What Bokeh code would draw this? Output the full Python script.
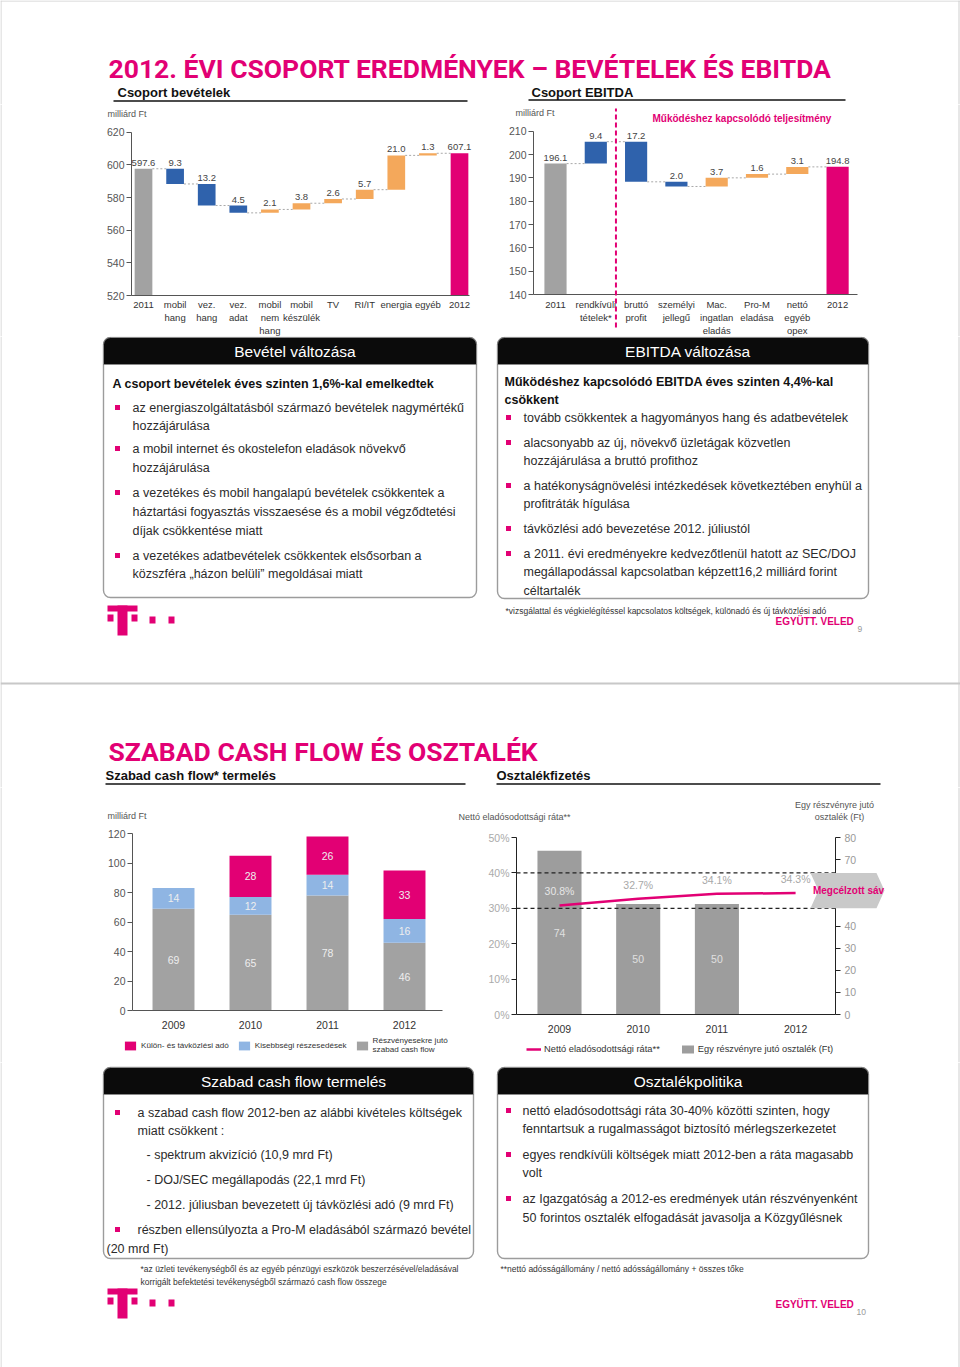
from bokeh.plotting import figure
from bokeh.models import (Range1d, Label, Arrow, PolyAnnotation, Span, Legend, LegendItem,
                          LinearAxis, FixedTicker, ColumnDataSource)
from bokeh.layouts import column, row
from bokeh.core.properties import value
from bokeh.embed import file_html
from bokeh.resources import INLINE

# ---------------- data ----------------
rev_categories = ["2011", "mobil\nhang", "vez.\nhang", "vez.\nadat", "mobil\nnem\nhang",
                  "mobil\nkészülék", "TV", "RI/IT", "energia", "egyéb", "2012"]
rev_start = 597.6
rev_changes = [-9.3, -13.2, -4.5, 2.1, 3.8, 2.6, 5.7, 21.0, 1.3]
rev_end = 607.1
rev_ticks = [520, 540, 560, 580, 600, 620]

ebitda_categories = ["2011", "rendkívüli\ntételek*", "bruttó\nprofit", "személyi\njellegű",
                     "Mac.\ningatlan\neladás", "Pro-M\neladása", "nettó\negyéb\nopex", "2012"]
ebitda_start = 196.1
ebitda_changes = [9.4, -17.2, -2.0, 3.7, 1.6, 3.1]
ebitda_kinds = ["one-off", "down", "down", "up", "up", "up"]
ebitda_end = 194.8
ebitda_ticks = [140, 150, 160, 170, 180, 190, 200, 210]

fcf_years = ["2009", "2010", "2011", "2012"]
fcf_shareholder = [69, 65, 78, 46]
fcf_minority = [14, 12, 14, 16]
fcf_tax = [0, 28, 26, 33]
fcf_ticks = [0, 20, 40, 60, 80, 100, 120]

div_years = ["2009", "2010", "2011", "2012"]
div_per_share = [74, 50, 50]               # Ft, 2009-2011
net_debt_ratio = [30.8, 32.7, 34.1, 34.3]  # %
ratio_ticks = [0, 10, 20, 30, 40, 50]
div_ticks = [0, 10, 20, 30, 40, 50, 60, 70, 80]
target_band = [30, 40]

# ---------------- style ----------------
MAGENTA = "#E20074"
BLUE = "#2F62AC"
ORANGE = "#F4A85B"
GREY = "#A2A2A2"
LBLUE = "#8FB5E3"
DARK = "#2b2b2b"
BORDER = "#cfcfcf"
FONT = "Liberation Sans"
TFONT = "Roboto"
PAGE_W = 960
SPLIT2 = 456   # x where the two lower charts meet


def strip(y_top, y_bot):
    p = figure(width=PAGE_W, height=y_bot - y_top, x_range=Range1d(0, PAGE_W), y_range=Range1d(y_bot, y_top),
               x_axis_location=None, y_axis_location=None, min_border=0,
               output_backend="svg", toolbar_location=None)
    p.grid.visible = False
    p.outline_line_color = None
    p.segment(x0=[0.5, PAGE_W - 1.5], x1=[0.5, PAGE_W - 1.5], y0=[y_top, y_top], y1=[y_bot, y_bot],
              line_color=BORDER, line_width=1)
    return p


def put(p, x, y, s, size=12.5, color=DARK, bold=False, align="left", baseline="middle", font=FONT):
    p.text(x=[x], y=[y], text=[s], text_font=value(font), text_font_size=f"{size}px",
           text_color=color, text_font_style="bold" if bold else "normal",
           text_align=align, text_baseline=baseline)


def hline(p, x0, x1, y, color="#111", width=1.0, dash="solid"):
    p.segment(x0=[x0], x1=[x1], y0=[y], y1=[y], line_color=color, line_width=width, line_dash=dash)


def text_box(p, l, r, t, h, b, title):
    body = p.quad(left=[l], right=[r], top=[t], bottom=[b], fill_color="white",
                  line_color="#9c9c9c", line_width=1.4)
    head = p.quad(left=[l], right=[r], top=[t], bottom=[h], fill_color="#0b0b0b",
                  line_color="#8a8a8a", line_width=1.0)
    try:
        body.glyph.border_radius = 7
        head.glyph.border_radius = (7, 7, 0, 0)
    except Exception:
        pass
    put(p, (l + r) / 2 + 5, (t + h) / 2 + 0.5, title, size=15.5, color="white", align="center")


def bullets(p, x, ys):
    p.scatter(x=[x] * len(ys), y=ys, marker="square", size=5, fill_color=MAGENTA, line_color=None)


def lines(p, x, items, size=12.5, color=DARK, bold=False):
    for y, s in items:
        put(p, x, y, s, size=size, color=color, bold=bold)


def logo(p, dy):
    parts = [(107, 137, 605, 611), (117, 127, 605, 635), (107, 113, 614, 621), (131, 137, 614, 621),
             (149, 155, 616, 623), (168, 174, 616, 623)]
    p.quad(left=[a[0] for a in parts], right=[a[1] for a in parts],
           top=[a[2] + dy for a in parts], bottom=[a[3] + dy for a in parts],
           fill_color=MAGENTA, line_color=None)


def chart_fig(x0, x1, y0, y1, fx, fy):
    """figure covering the page box x0..x1 / y0..y1; fx, fy map page pixels to data"""
    p = figure(width=x1 - x0, height=y1 - y0, x_range=Range1d(fx(x0), fx(x1)),
               y_range=Range1d(fy(y1), fy(y0)), min_border=0,
               output_backend="svg", toolbar_location=None)
    p.grid.visible = False
    p.outline_line_color = None
    for edge in (0.5, PAGE_W - 1.5):
        if x0 <= edge <= x1:
            p.add_layout(Span(location=fx(edge), dimension="height", line_color=BORDER, line_width=1))
    return p


def style_axes(p, xticks, xlabels, xloc, xbounds, yticks, yloc, ylabels=None, xsize="9.5px", xstand=4,
               ycolor="#555", axis_color="#555"):
    xa = p.xaxis[0]
    xa.fixed_location = xloc
    xa.bounds = xbounds
    xa.ticker = FixedTicker(ticks=xticks)
    xa.major_label_overrides = {t: s for t, s in zip(xticks, xlabels)}
    xa.major_tick_out = 0
    xa.major_tick_in = 0
    xa.major_tick_line_color = None
    xa.minor_tick_line_color = None
    xa.axis_line_color = axis_color
    xa.major_label_text_font = FONT
    xa.major_label_text_font_size = xsize
    xa.major_label_text_color = "#333"
    xa.major_label_standoff = xstand
    ya = p.yaxis[0]
    ya.fixed_location = yloc
    ya.bounds = (yticks[0], yticks[-1])
    ya.ticker = FixedTicker(ticks=yticks)
    if ylabels is not None:
        ya.major_label_overrides = {t: s for t, s in zip(yticks, ylabels)}
    ya.major_tick_out = 5
    ya.major_tick_in = 0
    ya.minor_tick_line_color = None
    ya.axis_line_color = axis_color
    ya.major_tick_line_color = axis_color
    ya.major_label_text_font = FONT
    ya.major_label_text_font_size = "10.5px"
    ya.major_label_text_color = ycolor
    ya.major_label_standoff = 2


def lab(p, x, y, s, size=9.0, color="#555", bold=False, align="left", baseline="middle", level="annotation"):
    p.add_layout(Label(x=x, y=y, text=s, text_font=FONT, text_font_size=f"{size}px",
                       text_color=color, text_font_style="bold" if bold else "normal",
                       text_align=align, text_baseline=baseline, level=level))


def waterfall(p, start, changes, end, base, colors, width):
    levels = [start]
    for c in changes:
        levels.append(round(levels[-1] + c, 3))
    n = len(changes) + 2
    xs = list(range(n))
    bottoms = [base] + [min(levels[i], levels[i + 1]) for i in range(len(changes))] + [base]
    tops = [start] + [max(levels[i], levels[i + 1]) for i in range(len(changes))] + [end]
    texts = [f"{start:.1f}"] + [f"{abs(c):.1f}" for c in changes] + [f"{end:.1f}"]
    src = ColumnDataSource(dict(x=xs, bottom=bottoms, top=tops, color=colors, text=texts))
    p.vbar(x="x", width=width, bottom="bottom", top="top", fill_color="color", line_color=None, source=src)
    p.segment(x0=[i + width / 2 for i in range(n - 1)], x1=[i + 1 - width / 2 for i in range(n - 1)],
              y0=levels[:n - 1], y1=levels[:n - 1], line_color="#a8a8a8", line_width=1, line_dash="2 2")
    p.text(x="x", y="top", text="text", source=src, text_align="center", text_baseline="bottom",
           y_offset=-3, text_font=value(FONT), text_font_size="9.5px", text_color="#444")


# ======================= slide 1 header =======================
S1 = strip(0, 104)
hline(S1, 0, PAGE_W, 0.5, BORDER, 1)
put(S1, 108, 67.5, "2012. ÉVI CSOPORT EREDMÉNYEK – BEVÉTELEK ÉS EBITDA", size=26.5, color=MAGENTA,
    bold=True, font=TFONT)
put(S1, 117, 92, "Csoport bevételek", size=13, color="#111", bold=True)
hline(S1, 113, 467, 100.5, "#111", 1.3)
put(S1, 531, 91.5, "Csoport EBITDA", size=13, color="#111", bold=True)
hline(S1, 528, 845, 99.5, "#111", 1.3)

# ======================= chart 1: revenue waterfall =======================
def c1x(px): return (px - 143.0) / 31.6
def c1y(py): return 520 + (295.0 - py) / 1.633

p1 = chart_fig(0, 488, 104, 336, c1x, c1y)
rev_colors = [GREY] + [BLUE if c < 0 else ORANGE for c in rev_changes] + [MAGENTA]
waterfall(p1, rev_start, rev_changes, rev_end, rev_ticks[0], rev_colors, 0.56)
style_axes(p1, list(range(len(rev_categories))), rev_categories, rev_ticks[0], (c1x(131), c1x(469)),
           rev_ticks, c1x(131), xstand=3)
lab(p1, c1x(107), c1y(113), "milliárd Ft", size=9, color="#555")

# ======================= chart 2: EBITDA waterfall =======================
def c2x(px): return (px - 555.0) / 40.3
def c2y(py): return 140 + (294.0 - py) / 2.333

p2 = chart_fig(488, PAGE_W, 104, 336, c2x, c2y)
kind_color = {"one-off": BLUE, "down": BLUE, "up": ORANGE}
eb_colors = [GREY] + [kind_color[k] for k in ebitda_kinds] + [MAGENTA]
waterfall(p2, ebitda_start, ebitda_changes, ebitda_end, ebitda_ticks[0], eb_colors, 0.55)
style_axes(p2, list(range(len(ebitda_categories))), ebitda_categories, ebitda_ticks[0],
           (c2x(533), c2x(857)), ebitda_ticks, c2x(533), xstand=4)
lab(p2, c2x(515), c2y(112), "milliárd Ft", size=9, color="#555")
p2.add_layout(Arrow(end=None, x_start=1.5, y_start=c2y(327), x_end=1.5, y_end=c2y(108),
                    line_color=MAGENTA, line_width=2, line_dash="5 3"))
lab(p2, c2x(652), c2y(118), "Működéshez kapcsolódó teljesítmény", size=10, color=MAGENTA, bold=True)

# ======================= slide 1 text + slide 2 header =======================
S2 = strip(336, 787)
text_box(S2, 103, 476, 337, 364, 597, "Bevétel változása")
put(S2, 112, 383, "A csoport bevételek éves szinten 1,6%-kal emelkedtek", size=12.5, color="#111", bold=True)
bullets(S2, 117, [407, 448, 492, 555])
lines(S2, 132, [(407, "az energiaszolgáltatásból származó bevételek nagymértékű"),
                (425, "hozzájárulása"),
                (448, "a mobil internet és okostelefon eladások növekvő"),
                (467, "hozzájárulása"),
                (492, "a vezetékes és mobil hangalapú bevételek csökkentek a"),
                (511, "háztartási fogyasztás visszaesése és a mobil végződtetési"),
                (530, "díjak csökkentése miatt"),
                (555, "a vezetékes adatbevételek csökkentek elsősorban a"),
                (573, "közszféra „házon belüli” megoldásai miatt")])

text_box(S2, 497, 868, 337, 364, 598, "EBITDA változása")
lines(S2, 504, [(381, "Működéshez kapcsolódó EBITDA éves szinten 4,4%-kal"),
                (399, "csökkent")], size=12.5, color="#111", bold=True)
bullets(S2, 508, [417, 442, 485, 528, 553])
lines(S2, 523, [(417, "tovább csökkentek a hagyományos hang és adatbevételek"),
                (442, "alacsonyabb az új, növekvő üzletágak közvetlen"),
                (460, "hozzájárulása a bruttó profithoz"),
                (485, "a hatékonyságnövelési intézkedések következtében enyhül a"),
                (503, "profitráták  hígulása"),
                (528, "távközlési adó bevezetése 2012. júliustól"),
                (553, "a 2011. évi eredményekre kedvezőtlenül hatott az SEC/DOJ"),
                (571, "megállapodással kapcsolatban képzett16,2 milliárd forint"),
                (590, "céltartalék")])
put(S2, 505, 610, "*vizsgálattal és végkielégítéssel kapcsolatos költségek, különadó és új távközlési adó",
    size=8.5, color="#333")
logo(S2, 0)
put(S2, 775, 621, "EGYÜTT. VELED", size=10, color=MAGENTA, bold=True)
put(S2, 857, 628, "9", size=8.5, color="#999")
hline(S2, 0, PAGE_W, 683, "#c8c8c8", 2)

put(S2, 108, 751, "SZABAD CASH FLOW ÉS OSZTALÉK", size=26.5, color=MAGENTA, bold=True, font=TFONT)
put(S2, 105, 775, "Szabad cash flow* termelés", size=13, color="#111", bold=True)
hline(S2, 105, 465, 783.5, "#111", 1.3)
put(S2, 496, 775, "Osztalékfizetés", size=13, color="#111", bold=True)
hline(S2, 496, 880, 783.5, "#111", 1.3)

# ======================= chart 3: free cash flow =======================
def c3x(px): return (px - 173.0) / 77.0
def c3y(py): return (1010.0 - py) / 1.475

p3 = chart_fig(0, SPLIT2, 787, 1062, c3x, c3y)
fx = list(range(len(fcf_years)))
src3 = ColumnDataSource(dict(x=fx, sh=fcf_shareholder, mi=fcf_minority, tx=fcf_tax))
r_sh, r_mi, r_tx = p3.vbar_stack(["sh", "mi", "tx"], x="x", width=0.545, color=[GREY, LBLUE, MAGENTA],
                                 line_color=None, source=src3)
lx, ly, lt = [], [], []
for i in fx:
    base = 0
    for v in (fcf_shareholder[i], fcf_minority[i], fcf_tax[i]):
        if v > 0:
            lx.append(i); ly.append(base + v / 2); lt.append(str(v))
        base += v
p3.text(x=lx, y=ly, text=lt, text_align="center", text_baseline="middle", text_font=value(FONT),
        text_font_size="10.5px", text_color="#eeeeee")
style_axes(p3, fx, fcf_years, fcf_ticks[0], (c3x(132), c3x(442)), fcf_ticks, c3x(132),
           xsize="10.5px", xstand=10)
lab(p3, c3x(107), c3y(815), "milliárd Ft", size=9, color="#555")
leg3 = Legend(items=[LegendItem(label="Külön- és távközlési adó", renderers=[r_tx]),
                     LegendItem(label="Kisebbségi részesedések", renderers=[r_mi]),
                     LegendItem(label="Részvényesekre jutó\nszabad cash flow", renderers=[r_sh])],
              location=(123, 8), orientation="horizontal", glyph_width=14, glyph_height=11,
              label_standoff=4, spacing=8, padding=0, margin=0, border_line_color=None,
              background_fill_alpha=0, label_text_font=FONT, label_text_font_size="8.1px",
              label_text_color="#333", label_height=10, label_text_line_height=1.4)
p3.add_layout(leg3)

# ======================= chart 4: dividend & leverage =======================
def c4x(px): return (px - 559.0) / 78.7
def c4y(py): return (1014.0 - py) / 3.54
def c4r(py): return (1014.0 - py) / 2.2125

p4 = chart_fig(SPLIT2, PAGE_W, 787, 1062, c4x, c4y)
p4.extra_y_ranges = {"div": Range1d(c4r(1062), c4r(787))}
dx = list(range(len(div_per_share)))
r_bar = p4.vbar(x=dx, top=div_per_share, width=0.56, fill_color="#9d9d9d", line_color=None,
                y_range_name="div")
p4.text(x=dx, y=[v / 2 for v in div_per_share], text=[str(v) for v in div_per_share],
        y_range_name="div", text_align="center", text_baseline="middle", text_font=value(FONT),
        text_font_size="10.5px", text_color="#e0e0e0")
xb = (c4x(516), c4x(835))
for b in target_band:
    p4.segment(x0=[xb[0]], x1=[xb[1]], y0=[b], y1=[b], line_color="#222", line_width=1.2, line_dash="4 3")
rx = list(range(len(net_debt_ratio)))
r_line = p4.line(x=rx, y=net_debt_ratio, line_color=MAGENTA, line_width=2.5)
# ratio units per dividend unit (both axes share the same pixel height)
div_to_ratio = 2.2125 / 3.54
rcolors = []
for i, v in enumerate(net_debt_ratio):
    inside = i < len(div_per_share) and div_per_share[i] * div_to_ratio > v + 8
    rcolors.append("#e6e6e6" if inside else "#a8a8a8")
p4.text(x=rx, y=net_debt_ratio, text=[f"{v:.1f}%" for v in net_debt_ratio], text_align="center",
        text_baseline="bottom", y_offset=-8, text_font=value(FONT), text_font_size="10.5px",
        text_color=rcolors)
style_axes(p4, list(range(len(div_years))), div_years, ratio_ticks[0], xb, ratio_ticks, c4x(516),
           [f"{t}%" for t in ratio_ticks], xsize="10.5px", xstand=10, ycolor="#aaaaaa", axis_color="#222")
rax = LinearAxis(y_range_name="div", ticker=FixedTicker(ticks=div_ticks))
rax.fixed_location = c4x(835)
rax.bounds = (div_ticks[0], div_ticks[-1])
rax.major_tick_out = 5
rax.major_tick_in = 0
rax.minor_tick_line_color = None
rax.axis_line_color = "#222"
rax.major_tick_line_color = "#222"
rax.major_label_text_font = FONT
rax.major_label_text_font_size = "10.5px"
rax.major_label_text_color = "#999999"
rax.major_label_standoff = 4
p4.add_layout(rax, "right")
lo, hi = min(target_band), max(target_band)
mid = (lo + hi) / 2
p4.add_layout(PolyAnnotation(xs=[c4x(810), c4x(876), c4x(884), c4x(876), c4x(810), c4x(818)],
                             ys=[hi, hi, mid, lo, lo, mid], fill_color="#c9c9c9", fill_alpha=1,
                             line_color=None, level="overlay"))
lab(p4, c4x(848), mid, "Megcélzott sáv", size=10, color=MAGENTA, bold=True, align="center", level="overlay")
lab(p4, c4x(458), c4y(816), "Nettó eladósodottsági ráta**", size=9, color="#555")
lab(p4, c4x(834), c4y(804), "Egy részvényre jutó", size=9, color="#555", align="center")
lab(p4, c4x(839), c4y(816), "osztalék (Ft)", size=9, color="#555", align="center")
leg4 = Legend(items=[LegendItem(label="Nettó eladósodottsági ráta**", renderers=[r_line]),
                     LegendItem(label="Egy részvényre jutó osztalék (Ft)", renderers=[r_bar])],
              location=(526 - SPLIT2, 8), orientation="horizontal", glyph_width=15, glyph_height=10,
              label_standoff=3, spacing=20, padding=0, margin=0, border_line_color=None,
              background_fill_alpha=0, label_text_font=FONT, label_text_font_size="9.3px",
              label_text_color="#333", label_height=10)
p4.add_layout(leg4)

# ======================= slide 2 text =======================
S3 = strip(1062, 1367)
text_box(S3, 103, 473, 1067, 1094, 1258, "Szabad cash flow termelés")
bullets(S3, 117, [1112, 1229])
lines(S3, 137, [(1112, "a szabad cash flow 2012-ben az alábbi kivételes költségek"),
                (1130, "miatt csökkent :"),
                (1229, "részben ellensúlyozta a Pro-M eladásából származó bevétel")])
lines(S3, 146, [(1154, "- spektrum akvizíció (10,9 mrd Ft)"),
                (1179, "- DOJ/SEC megállapodás (22,1 mrd Ft)"),
                (1204, "- 2012. júliusban bevezetett új távközlési adó (9 mrd Ft)")])
put(S3, 106, 1248, "(20 mrd Ft)")
put(S3, 140, 1268, "*az üzleti tevékenységből és az egyéb pénzügyi eszközök beszerzésével/eladásával",
    size=8.5, color="#333")
put(S3, 140, 1281, "korrigált befektetési tevékenységből származó cash flow összege", size=8.5, color="#333")

text_box(S3, 497, 868, 1067, 1094, 1258, "Osztalékpolitika")
bullets(S3, 508, [1110, 1154, 1198])
lines(S3, 522, [(1110, "nettó eladósodottsági ráta 30-40% közötti szinten, hogy"),
                (1128, "fenntartsuk a rugalmasságot biztosító mérlegszerkezetet"),
                (1154, "egyes rendkívüli költségek miatt 2012-ben a ráta magasabb"),
                (1172, "volt"),
                (1198, "az Igazgatóság a 2012-es eredmények után részvényenként"),
                (1217, "50 forintos osztalék elfogadását javasolja a Közgyűlésnek")])
put(S3, 500, 1268, "**nettó adósságállomány / nettó adósságállomány + összes tőke", size=8.5, color="#333")
logo(S3, 683)
put(S3, 775, 1304, "EGYÜTT. VELED", size=10, color=MAGENTA, bold=True)
put(S3, 856, 1311, "10", size=8.5, color="#999")

page = column(S1, row(p1, p2, spacing=0), S2, row(p3, p4, spacing=0), S3, spacing=0)
open("out.html", "w").write(file_html(page, INLINE))
